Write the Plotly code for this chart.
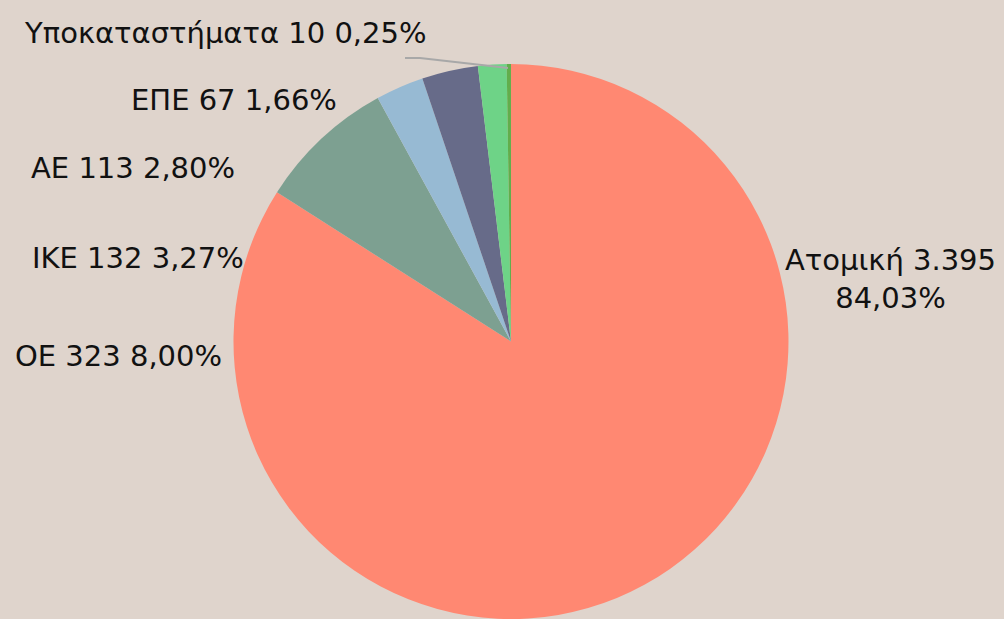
import plotly.graph_objects as go

labels = ["Ατομική", "ΟΕ", "ΑΕ", "ΙΚΕ", "ΕΠΕ", "Υποκαταστήματα"]
values = [3395, 323, 113, 132, 67, 10]
display_counts = ["3.395", "323", "113", "132", "67", "10"]
display_pcts = ["84,03%", "8,00%", "2,80%", "3,27%", "1,66%", "0,25%"]
colors = ["#FF8872", "#7DA091", "#97BAD3", "#676B89", "#6ED387", "#62AE4C"]

W, H = 1004, 619
FONT = "DejaVu Sans"

fig = go.Figure()
fig.add_trace(go.Pie(
    labels=labels, values=values, sort=False, direction="clockwise", rotation=0,
    marker=dict(colors=colors, line=dict(width=0)),
    textinfo="none", hoverinfo="label+value+percent", showlegend=False,
    domain=dict(x=[0.0179, 1.0], y=[0, 1 - 64 / H]),
))

# label positions (pixel centres)
pos = {
    "Ατομική": (890, 279),
    "ΟΕ": (118, 356),
    "ΑΕ": (133, 168),
    "ΙΚΕ": (138, 258),
    "ΕΠΕ": (234, 100),
    "Υποκαταστήματα": (225, 33),
}
for lab, cnt, pct in zip(labels, display_counts, display_pcts):
    x, y = pos[lab]
    if lab == "Ατομική":
        txt = f"{lab} {cnt}<br>{pct}"
    else:
        txt = f"{lab} {cnt} {pct}"
    fig.add_annotation(x=x / W, y=1 - y / H, xref="paper", yref="paper",
                       text=txt, showarrow=False, xanchor="center", yanchor="middle",
                       font=dict(family=FONT, size=29, color="#111111"), align="center")

# leader line for the smallest slice
fig.add_shape(type="path", xref="paper", yref="paper",
              path=f"M {405/W} {1-58/H} L {420/W} {1-58/H} L {508/W} {1-68/H}",
              line=dict(color="#A8A8A8", width=2))

fig.update_layout(
    width=W, height=H,
    margin=dict(l=0, r=0, t=0, b=0),
    paper_bgcolor="#DFD4CC", plot_bgcolor="#DFD4CC",
    font=dict(family=FONT),
)
fig.write_html("out.html", config={"displayModeBar": False},
               post_script="document.body.style.margin='0';")
